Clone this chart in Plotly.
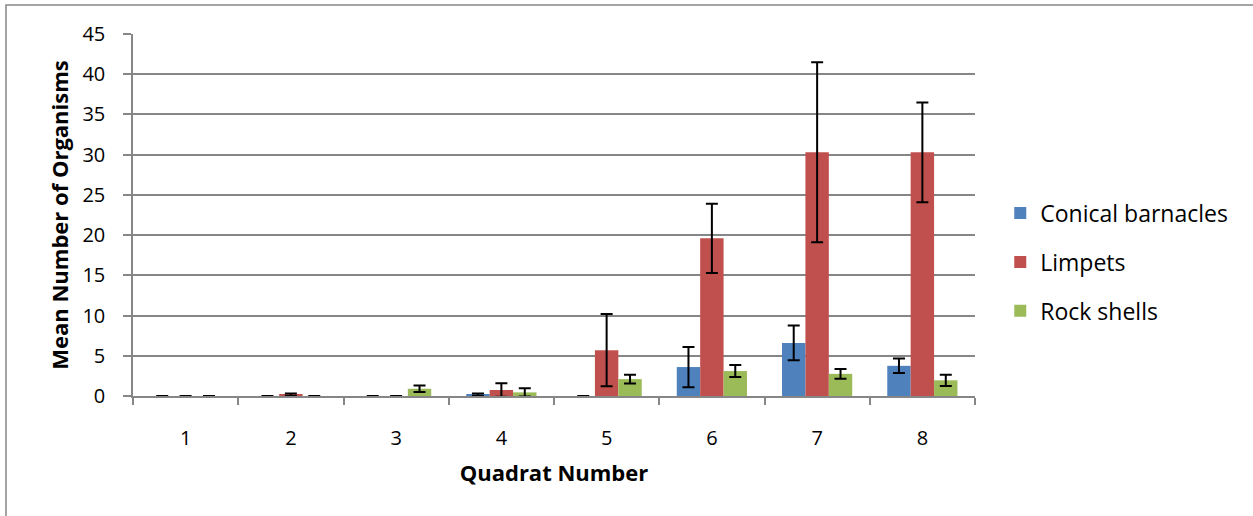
import plotly.graph_objects as go

quadrats = ["1", "2", "3", "4", "5", "6", "7", "8"]
barnacles = [0, 0, 0, 0.15, 0, 3.6, 6.6, 3.75]
barnacles_err = [0, 0, 0, 0.15, 0, 2.5, 2.15, 0.9]
limpets = [0, 0.15, 0, 0.75, 5.7, 19.6, 30.3, 30.3]
limpets_err = [0, 0.15, 0, 0.85, 4.5, 4.3, 11.2, 6.2]
rockshells = [0, 0, 0.9, 0.45, 2.1, 3.1, 2.75, 1.95]
rockshells_err = [0, 0, 0.4, 0.5, 0.55, 0.75, 0.6, 0.7]

series = [
    ("Conical barnacles", barnacles, barnacles_err, "#4F81BD"),
    ("Limpets", limpets, limpets_err, "#C0504D"),
    ("Rock shells", rockshells, rockshells_err, "#9BBB59"),
]

FONT = "Open Sans, sans-serif"

fig = go.Figure()
for name, vals, errs, color in series:
    fig.add_trace(go.Bar(
        x=quadrats, y=vals, name=name, marker_color=color,
        marker_line_width=0, legendgroup=name,
        error_y=dict(type="data", array=errs, visible=True,
                     color="black", thickness=2, width=6),
    ))

fig.update_layout(
    width=1253, height=516,
    margin=dict(l=133, r=278, t=34, b=120),
    paper_bgcolor="white", plot_bgcolor="white",
    barmode="group", bargap=0.333, bargroupgap=0,
    font=dict(family=FONT, size=18, color="black"),
    showlegend=True,
    legend=dict(x=1.03, y=0.37, xanchor="left", yanchor="middle",
                font=dict(size=23), tracegroupgap=16, itemwidth=30,
                bgcolor="rgba(0,0,0,0)"),
    xaxis=dict(
        title=dict(text="<b>Quadrat Number</b>", font=dict(size=22), standoff=16),
        showline=True, linecolor="#868686", linewidth=1.5,
        ticks="outside", tickson="boundaries", ticklen=7, tickcolor="#868686",
        tickwidth=1.5, showgrid=False, tickfont=dict(size=20),
        ticklabelstandoff=23,
    ),
    yaxis=dict(
        title=dict(text="<b>Mean Number of Organisms</b>", font=dict(size=22), standoff=8),
        range=[0, 45], dtick=5, showline=True, linecolor="#868686", linewidth=1.5,
        ticks="outside", ticklen=8, tickcolor="#868686", tickwidth=1.5,
        showgrid=True, gridcolor="#868686", gridwidth=1.5,
        tickfont=dict(size=20), zeroline=False, ticklabelstandoff=14,
    ),
    shapes=[dict(type="rect", xref="paper", yref="paper",
                 x0=(6 - 133) / 842, x1=2.0, y0=-0.6, y1=1 + (34 - 5) / 362,
                 line=dict(color="#868686", width=1.5), layer="below")],
)

fig.write_html("out.html", config={"displayModeBar": False},
               post_script="document.body.style.margin='0';")
